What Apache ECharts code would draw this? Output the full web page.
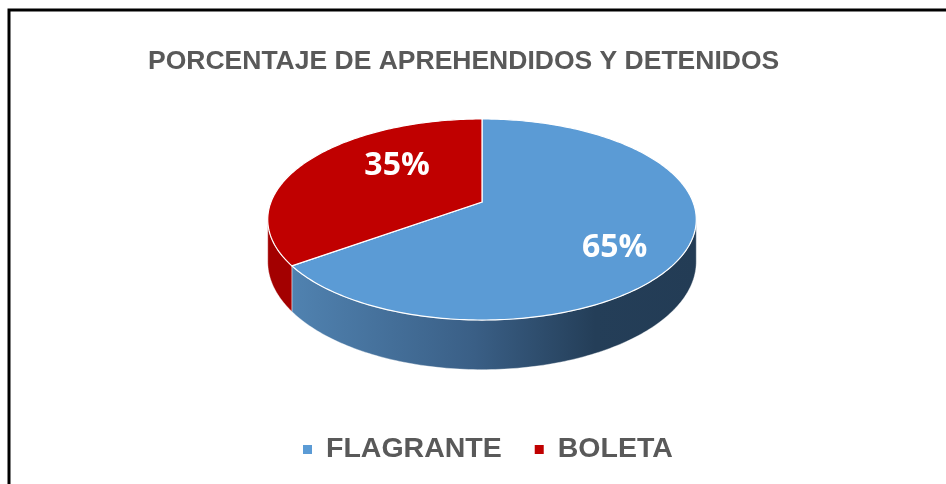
<!DOCTYPE html>
<html>
<head>
<meta charset="utf-8">
<script src="https://cdn.jsdelivr.net/npm/echarts@6/dist/echarts.min.js"></script>
<style>
  html, body { margin: 0; padding: 0; background: #fff; }
  #chart { width: 946px; height: 484px; }
</style>
</head>
<body>
<div id="chart"></div>
<script>
// data
const categories = ['FLAGRANTE', 'BOLETA']
const values = [65, 35]
const colors = ['#5B9BD5', '#C00000']
const sideColors = [
  { type: 'linear', x: 0, y: 0, x2: 1, y2: 0, colorStops: [
    { offset: 0, color: '#5082B0' },
    { offset: 0.45, color: '#3A5F86' },
    { offset: 0.75, color: '#243E58' },
    { offset: 1, color: '#233C55' }
  ] },
  '#A30000'
]

// pie layout (pixels)
const cx = 482
const cy = 202
const R = 211
const RY = 97.5
const P = 0.174   // perspective
const H = 41      // thickness
const labelShift = 12
const labelR = 0.66
const labelDx = 16
const labelDy = 2

const total = values.reduce((a, b) => a + b, 0)

function project(r, deg, h) {
  const a = deg * Math.PI / 180
  const t = 1 + P * r * Math.cos(a)
  return [cx + R * r * Math.sin(a) / t, cy - RY * r * Math.cos(a) / t + (h || 0) / t]
}

function arc(a0, a1, h) {
  const pts = []
  const n = Math.max(2, Math.ceil(Math.abs(a1 - a0)))
  for (let i = 0; i <= n; i++) pts.push(project(1, a0 + (a1 - a0) * i / n, h))
  return pts
}

const frontL = Math.acos(-P) * 180 / Math.PI  // ~100deg
const frontR = 360 - frontL

function renderSlice(idx) {
  return function (params, api) {
    let start = 0
    for (let i = 0; i < idx; i++) start += values[i] / total * 360
    const end = start + values[idx] / total * 360
    const children = []

    // side wall, only the front part
    const s0 = Math.max(start, frontL)
    const s1 = Math.min(end, frontR)
    if (s1 > s0) {
      const pts = arc(s0, s1, 0).concat(arc(s1, s0, H))
      children.push({
        type: 'polygon',
        z2: 1,
        shape: { points: pts },
        style: { fill: sideColors[idx], stroke: 'rgba(255,255,255,0.5)', lineWidth: 0.8 }
      })
    }

    // top face
    children.push({
      type: 'polygon',
      z2: 10,
      shape: { points: [project(0, 0)].concat(arc(start, end, 0)) },
      style: { fill: colors[idx], stroke: '#fff', lineWidth: 1.2 }
    })

    // value label
    const mid = (start + end) / 2 + labelShift
    const lp = project(labelR, mid, 0)
    children.push({
      type: 'text',
      z2: 20,
      x: lp[0] + labelDx,
      y: lp[1] + labelDy,
      style: {
        text: api.value(0) + '%',
        fill: '#fff',
        fontSize: 32,
        fontWeight: 'bold',
        fontFamily: 'Open Sans',
        align: 'center',
        verticalAlign: 'middle'
      }
    })
    return { type: 'group', children }
  }
}

const chart = echarts.init(document.getElementById('chart'))

const option = {
  backgroundColor: '#fff',
  animation: false,
  title: {
    text: 'PORCENTAJE DE APREHENDIDOS Y DETENIDOS',
    left: 148,
    top: 48,
    padding: 0,
    textStyle: {
      fontSize: 26.5,
      fontWeight: 'bold',
      color: '#595959',
      fontFamily: 'Liberation Sans'
    }
  },
  legend: {
    data: categories,
    left: 303,
    top: 435,
    padding: 0,
    icon: 'rect',
    itemWidth: 9,
    itemHeight: 9,
    itemGap: 33,
    textStyle: {
      fontSize: 28.5,
      fontWeight: 'bold',
      color: '#595959',
      fontFamily: 'Liberation Sans',
      padding: [0, 0, 0, 9]
    }
  },
  graphic: [
    {
      type: 'polyline',
      shape: { points: [[9, 484], [9, 10], [946, 10]] },
      style: { stroke: '#000', lineWidth: 3, fill: null }
    }
  ],
  series: categories.map((name, i) => ({
    type: 'custom',
    name: name,
    coordinateSystem: 'none',
    itemStyle: { color: colors[i] },
    data: [values[i]],
    renderItem: renderSlice(i)
  }))
}

chart.setOption(option)
window.addEventListener('resize', () => chart.resize())
</script>
</body>
</html>
